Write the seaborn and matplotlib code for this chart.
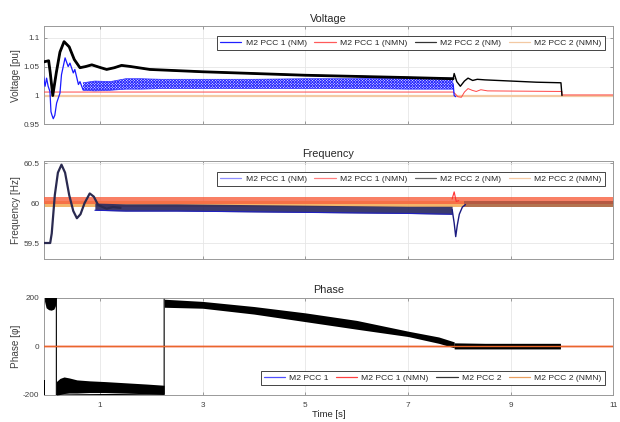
import matplotlib
matplotlib.use('Agg')
import matplotlib.pyplot as plt
from matplotlib.lines import Line2D
import numpy as np
import seaborn as sns

sns.set_theme(style='ticks')
plt.rcParams['font.family'] = ['Liberation Sans', 'DejaVu Sans']
plt.rcParams['hatch.linewidth'] = 0.6

# ---------------- Voltage ----------------
volt_t_pcc2_nm = [-0.1, 0.0, 0.03, 0.08, 0.15, 0.22, 0.3, 0.4, 0.5, 0.61, 0.72, 0.84, 0.98, 1.13,
                  1.28, 1.42, 1.6, 1.97, 3.0, 4.0, 5.0, 6.0, 7.0, 7.88, 7.9, 7.95, 8.02, 8.1, 8.17,
                  8.26, 8.35, 8.5, 9.0, 9.5, 9.98, 10.0]
volt_pcc2_nm = [1.058, 1.06, 1.04, 1.0, 1.04, 1.075, 1.093, 1.084, 1.062, 1.048, 1.05, 1.053, 1.049,
                1.045, 1.048, 1.052, 1.05, 1.045, 1.041, 1.038, 1.035, 1.033, 1.031, 1.029, 1.038,
                1.024, 1.016, 1.025, 1.030, 1.026, 1.028, 1.027, 1.025, 1.023, 1.022, 1.0]

volt_t_pcc1_nm = [-0.1, -0.07, -0.04, -0.01, 0.025, 0.045, 0.065, 0.09, 0.12, 0.155, 0.22, 0.25,
                  0.32, 0.38, 0.415, 0.48, 0.51, 0.58, 0.61, 0.67]
volt_pcc1_nm = [1.033, 1.016, 1.030, 1.016, 1.007, 0.972, 0.966, 0.960, 0.966, 0.987, 1.004, 1.036,
                1.065, 1.050, 1.056, 1.039, 1.045, 1.019, 1.024, 1.010]
# oscillation band of PCC 1 (NM) voltage
volt_band_t = [0.67, 0.9, 1.2, 1.5, 1.8, 2.2, 3.0, 4.0, 5.0, 6.0, 7.0, 7.88]
volt_band_lo = [1.009, 1.008, 1.009, 1.011, 1.011, 1.012, 1.012, 1.012, 1.012, 1.012, 1.011, 1.011]
volt_band_hi = [1.022, 1.025, 1.024, 1.029, 1.029, 1.028, 1.028, 1.028, 1.029, 1.029, 1.030, 1.030]
volt_tail_t = [7.88, 7.9, 7.93]
volt_tail = [1.02, 1.0, 0.998]

volt_t_pcc1_nmn = [-0.1, 7.88, 7.92, 7.97, 8.04, 8.1, 8.17, 8.25, 8.33, 8.42, 8.55, 10.0, 10.0, 11.0]
volt_pcc1_nmn = [1.006, 1.006, 1.003, 0.998, 0.997, 1.006, 1.012, 1.009, 1.007, 1.010, 1.008, 1.007,
                 1.001, 1.001]
volt_t_pcc2_nmn = [-0.1, 11.0]
volt_pcc2_nmn = [0.999, 0.999]

# ---------------- Frequency ----------------
freq_t_nm = [-0.1, 0.03, 0.06, 0.12, 0.18, 0.25, 0.32, 0.4, 0.48, 0.55, 0.62, 0.7, 0.8, 0.88,
             0.96, 1.05, 1.13, 1.25, 1.4]
freq_nm = [59.5, 59.5, 59.62, 60.1, 60.38, 60.48, 60.38, 60.1, 59.9, 59.81, 59.86, 60.0, 60.12,
           60.08, 59.98, 59.95, 59.93, 59.95, 59.94]
freq_band_t = [0.9, 1.5, 2.5, 4.0, 5.5, 7.0, 7.86]
freq_band_lo = [59.91, 59.90, 59.90, 59.89, 59.88, 59.87, 59.86]
freq_band_hi = [60.0, 59.99, 59.99, 59.98, 59.97, 59.96, 59.96]
freq_dip_t = [7.86, 7.9, 7.93, 7.96, 8.0, 8.06, 8.12]
freq_dip = [59.92, 59.75, 59.58, 59.72, 59.86, 59.95, 59.98]
freq_after_t = [8.1, 11.0]
freq_after_lo = [59.95, 59.95]
freq_after_hi = [60.03, 60.03]
freq_red_t = [-0.1, 11.0]
freq_red_lo = [59.99, 59.99]
freq_red_hi = [60.07, 60.07]
freq_red_spike_t = [7.86, 7.9, 7.94, 7.99]
freq_red_spike = [60.05, 60.14, 60.02, 60.03]
freq_org_t = [-0.1, 11.0]
freq_org_lo = [59.95, 59.95]
freq_org_hi = [60.02, 60.02]

# ---------------- Phase ----------------
ph_t0 = [-0.1, -0.08]
ph_lo0 = [-200, -200]
ph_hi0 = [-140, -140]
ph_t1 = [-0.08, -0.05, 0.0, 0.05, 0.1, 0.13, 0.15]
ph_lo1 = [185, 158, 150, 148, 152, 165, 200]
ph_hi1 = [200, 200, 200, 200, 200, 200, 200]
ph_t2 = [0.15, 0.22, 0.3, 0.4, 0.55, 0.8, 1.1, 1.5, 1.9, 2.25]
ph_lo2 = [-200, -198, -194, -192, -192, -190, -190, -192, -195, -198]
ph_hi2 = [-145, -132, -126, -130, -138, -142, -145, -150, -155, -160]
ph_t3 = [2.25, 3.0, 4.0, 5.0, 6.0, 7.0, 7.6, 7.9]
ph_lo3 = [160, 156, 132, 101, 70, 40, 12, -6]
ph_hi3 = [193, 184, 163, 137, 106, 62, 38, 18]
ph_t4 = [7.9, 8.5, 9.0, 9.5, 9.97]
ph_lo4 = [-11, -11, -11, -11, -11]
ph_hi4 = [14, 12, 12, 12, 12]
ph_wrap_t = [0.15, 0.15, np.nan, 2.25, 2.25]
ph_wrap = [200, -200, np.nan, -196, 193]
ph_ref_t = [-0.1, 11.0]
ph_ref = [0, 0]

xticks = [1, 3, 5, 7, 9, 11]
legend_nm = ['M2 PCC 1 (NM)', 'M2 PCC 1 (NMN)', 'M2 PCC 2 (NM)', 'M2 PCC 2 (NMN)']
legend_ph = ['M2 PCC 1', 'M2 PCC 1 (NMN)', 'M2 PCC 2', 'M2 PCC 2 (NMN)']

fig = plt.figure(figsize=(6.2, 4.22), dpi=100)
ax_v = fig.add_axes([0.0702, 0.705, 0.919, 0.2334])
ax_f = fig.add_axes([0.0702, 0.3863, 0.919, 0.231])
ax_p = fig.add_axes([0.0702, 0.064, 0.919, 0.231])


def line(ax, x, y, color, lw=0.8, alpha=1.0, z=3):
    sns.lineplot(x=x, y=y, ax=ax, color=color, lw=lw, alpha=alpha, sort=False,
                 estimator=None, zorder=z)


def style(ax, title, ylabel, ylim, yticks, yticklabels, bottom=False):
    ax.set_xlim(-0.1, 11)
    ax.set_ylim(*ylim)
    ax.set_xticks(xticks)
    ax.set_yticks(yticks)
    ax.set_yticklabels(yticklabels)
    if bottom:
        ax.set_xticklabels([str(v) for v in xticks])
        ax.set_xlabel('Time [s]', fontsize=6.8, labelpad=1, color='#262626')
    else:
        ax.set_xticklabels([])
        ax.set_xlabel('')
    ax.grid(True, color='#e6e6e6', lw=0.6)
    ax.set_axisbelow(True)
    ax.tick_params(direction='in', length=2.5, width=0.6, colors='#8c8c8c',
                   labelcolor='#404040', labelsize=5.9, pad=3,
                   top=True, right=True)
    ax.tick_params(axis='x', pad=5)
    for s in ax.spines.values():
        s.set_color('#999999')
        s.set_linewidth(0.7)
    ax.set_title(title, fontsize=7.8, pad=3, color='#262626')
    ax.set_ylabel(ylabel, fontsize=7.2, color='#404040')
    ax.yaxis.set_label_coords(-0.039, 0.5)


def add_legend(ax, labels, colors, loc, anchor):
    handles = [Line2D([0], [0], color=c, lw=0.9) for c in colors]
    leg = ax.legend(handles, labels, ncol=4, loc=loc, bbox_to_anchor=anchor, fontsize=6.1,
                    handlelength=2.5, handletextpad=0.5, columnspacing=0.9, borderpad=0.35,
                    borderaxespad=0, frameon=True, fancybox=False, framealpha=1)
    leg.get_frame().set_edgecolor('#262626')
    leg.get_frame().set_linewidth(0.6)
    for t in leg.get_texts():
        t.set_color('#262626')


# Voltage
line(ax_v, volt_t_pcc2_nmn, volt_pcc2_nmn, '#f3c9a3', lw=1.6, z=2)
line(ax_v, volt_t_pcc1_nmn, volt_pcc1_nmn, '#ff4545', lw=0.7, z=3)
ax_v.fill_between(volt_band_t, volt_band_lo, volt_band_hi, facecolor='#e4e4ff', edgecolor='#2a2aff',
                  hatch='x' * 12, lw=0, zorder=3)
line(ax_v, volt_band_t, volt_band_lo, '#3030ff', lw=0.5)
line(ax_v, volt_band_t, volt_band_hi, '#3030ff', lw=0.5)
line(ax_v, volt_t_pcc1_nm, volt_pcc1_nm, '#1a1aff', lw=0.9, z=4)
line(ax_v, volt_tail_t, volt_tail, '#1a1aff', lw=0.9, z=4)
t2 = np.array(volt_t_pcc2_nm)
v2 = np.array(volt_pcc2_nm)
line(ax_v, t2, v2, '#000000', lw=1.0, z=5)
thick = t2 <= 7.88
line(ax_v, t2[thick], v2[thick], '#000000', lw=2.0, z=5)
style(ax_v, 'Voltage', 'Voltage [pu]', (0.95, 1.12), [0.95, 1.0, 1.05, 1.1],
      ['0.95', '1', '1.05', '1.1'])
add_legend(ax_v, legend_nm, ['#2020ff', '#ff5a5a', '#333333', '#f3c9a3'],
           'upper right', (0.985, 0.898))

# Frequency
ax_f.fill_between(freq_org_t, freq_org_lo, freq_org_hi, color='#f2a850', alpha=0.85, lw=0, zorder=2)
ax_f.fill_between(freq_red_t, freq_red_lo, freq_red_hi, color='#f8603e', alpha=0.8, lw=0, zorder=3)
ax_f.fill_between(freq_band_t, freq_band_lo, freq_band_hi, color='#26265e', alpha=0.9, lw=0, zorder=4)
line(ax_f, freq_band_t, freq_band_lo, '#2020c0', lw=0.8, z=4)
ax_f.fill_between(freq_after_t, freq_after_lo, freq_after_hi, color='#8a4a40', alpha=0.6, lw=0, zorder=4)
line(ax_f, freq_red_spike_t, freq_red_spike, '#ff3030', lw=0.8, z=4)
line(ax_f, freq_dip_t, freq_dip, '#1a1a80', lw=1.0, z=5)
line(ax_f, freq_t_nm, freq_nm, '#2a2a50', lw=1.6, z=5)
style(ax_f, 'Frequency', 'Frequency [Hz]', (59.3, 60.52), [59.5, 60.0, 60.5],
      ['59.5', '60', '60.5'])
add_legend(ax_f, legend_nm, ['#8f8fff', '#ff8080', '#666666', '#f5cba5'],
           'upper right', (0.985, 0.89))

# Phase
for tt, lo, hi in [(ph_t0, ph_lo0, ph_hi0), (ph_t1, ph_lo1, ph_hi1), (ph_t2, ph_lo2, ph_hi2),
                   (ph_t3, ph_lo3, ph_hi3), (ph_t4, ph_lo4, ph_hi4)]:
    ax_p.fill_between(tt, lo, hi, color='#000000', lw=0, zorder=4)
line(ax_p, ph_wrap_t, ph_wrap, '#000000', lw=0.8, z=4)
line(ax_p, ph_ref_t, ph_ref, '#ff2020', lw=1.0, z=3)
line(ax_p, ph_ref_t, ph_ref, '#e8682a', lw=1.0, z=5)
style(ax_p, 'Phase', 'Phase [φ]', (-200, 200), [-200, 0, 200], ['-200', '0', '200'], bottom=True)
add_legend(ax_p, legend_ph, ['#5050ff', '#ff4040', '#333333', '#eaa060'],
           'lower right', (0.985, 0.103))

fig.savefig('out.png', dpi=100)
